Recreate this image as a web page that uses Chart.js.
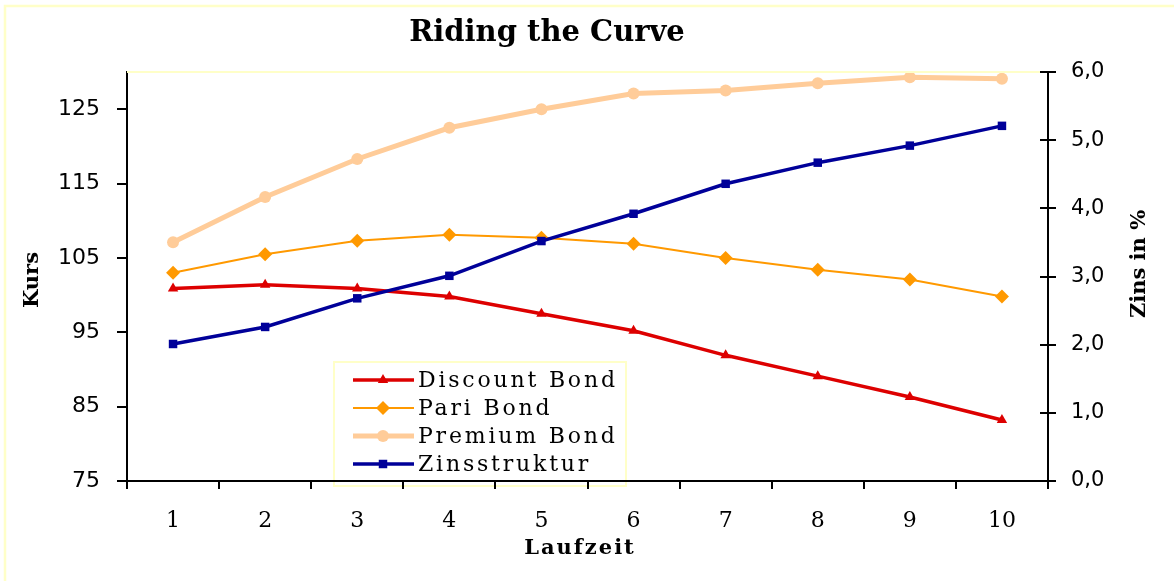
<!DOCTYPE html>
<html>
<head>
<meta charset="utf-8">
<script src="https://cdn.jsdelivr.net/npm/chart.js@4.4.1/dist/chart.umd.min.js"></script>
<style>
  html, body { margin: 0; padding: 0; background: #ffffff; }
  #wrap { position: relative; width: 1174px; height: 581px; }
  canvas { display: block; }
</style>
</head>
<body>
<div id="wrap"><canvas id="c" width="1174" height="581"></canvas></div>
<script>
// ---- data ----
const categories = ['1', '2', '3', '4', '5', '6', '7', '8', '9', '10'];
const discountBond = [100.9, 101.4, 100.9, 99.8, 97.5, 95.2, 91.9, 89.1, 86.3, 83.2];
const pariBond     = [103.0, 105.5, 107.3, 108.1, 107.7, 106.9, 105.0, 103.4, 102.1, 99.8];
const premiumBond  = [107.1, 113.2, 118.3, 122.5, 125.0, 127.1, 127.5, 128.5, 129.3, 129.1];
const zinsstruktur = [2.01, 2.26, 2.68, 3.01, 3.52, 3.92, 4.36, 4.67, 4.92, 5.21];
const kursTicks = [75, 85, 95, 105, 115, 125];
const zinsTicks = [0, 1, 2, 3, 4, 5, 6];

const chartTitle = 'Riding the Curve';
const xTitle = 'Laufzeit';
const yTitle = 'Kurs';
const y1Title = 'Zins in %';

const PALE = '#FFFFC8';

const decorPlugin = {
  id: 'decor',
  beforeDraw(chart) {
    // legend box (drawn before axes so the x axis passes over it)
    const ctx = chart.ctx;
    ctx.save();
    const lx = 334, ly = 362, lw = 292, lh = 124;
    ctx.fillStyle = '#fff';
    ctx.fillRect(lx, ly, lw, lh);
    ctx.strokeStyle = PALE;
    ctx.lineWidth = 2;
    ctx.strokeRect(lx, ly, lw, lh);

    const rows = [380, 408, 436, 464];
    chart.data.datasets.forEach((ds, i) => {
      const yy = rows[i];
      ctx.strokeStyle = ds.borderColor;
      ctx.lineWidth = ds.borderWidth;
      ctx.beginPath();
      ctx.moveTo(353, yy);
      ctx.lineTo(414, yy);
      ctx.stroke();
      ctx.fillStyle = ds.pointBackgroundColor;
      ctx.strokeStyle = ds.pointBackgroundColor;
      Chart.helpers.drawPoint(ctx, {
        pointStyle: ds.pointStyle,
        radius: ds.pointRadius,
        rotation: 0,
        borderWidth: 0
      }, 383, yy);
      ctx.fillStyle = '#000';
      ctx.textAlign = 'left';
      ctx.textBaseline = 'middle';
      ctx.font = '22px "DejaVu Serif"';
      ctx.letterSpacing = '2.8px';
      ctx.fillText(ds.label, 418, yy + 1);
      ctx.letterSpacing = '0px';
    });
    ctx.restore();
  },
  afterDraw(chart) {
    const ctx = chart.ctx;
    const a = chart.chartArea;
    ctx.save();
    // outer frame
    ctx.strokeStyle = PALE;
    ctx.lineWidth = 2.5;
    ctx.strokeRect(5, 6, 1200, 600);
    // plot-area top border
    ctx.beginPath();
    ctx.moveTo(a.left, a.top);
    ctx.lineTo(a.right, a.top);
    ctx.lineWidth = 2;
    ctx.stroke();

    // inner halves of right-axis ticks
    const y1 = chart.scales.y1;
    ctx.strokeStyle = '#000';
    ctx.lineWidth = 2;
    y1.ticks.forEach(t => {
      const py = Math.round(y1.getPixelForValue(t.value));
      ctx.beginPath();
      ctx.moveTo(a.right - 8, py);
      ctx.lineTo(a.right, py);
      ctx.stroke();
    });

    // titles
    ctx.fillStyle = '#000';
    ctx.textAlign = 'center';
    ctx.textBaseline = 'alphabetic';
    ctx.font = 'bold 29px "DejaVu Serif"';
    ctx.fillText(chartTitle, 547, 41);

    ctx.font = 'bold 21px "DejaVu Serif"';
    ctx.textBaseline = 'middle';
    ctx.letterSpacing = '2px';
    ctx.fillText(xTitle, 580, 549);
    ctx.letterSpacing = '0px';

    ctx.save();
    ctx.translate(33, 280);
    ctx.rotate(-Math.PI / 2);
    ctx.fillText(yTitle, 0, 0);
    ctx.restore();

    ctx.save();
    ctx.translate(1140, 264);
    ctx.rotate(-Math.PI / 2);
    ctx.fillText(y1Title, 0, 0);
    ctx.restore();
    ctx.restore();
  }
};

new Chart(document.getElementById('c'), {
  type: 'line',
  data: {
    labels: categories,
    datasets: [
      {
        label: 'Discount Bond', data: discountBond, yAxisID: 'y',
        borderColor: '#DD0000', backgroundColor: '#DD0000',
        pointBackgroundColor: '#DD0000', pointBorderColor: '#DD0000',
        borderWidth: 3.5, pointStyle: 'triangle', pointRadius: 6, pointBorderWidth: 0,
        order: 1, clip: false, tension: 0
      },
      {
        label: 'Pari Bond', data: pariBond, yAxisID: 'y',
        borderColor: '#FF9900', backgroundColor: '#FF9900',
        pointBackgroundColor: '#FF9900', pointBorderColor: '#FF9900',
        borderWidth: 2, pointStyle: 'rectRot', pointRadius: 7, pointBorderWidth: 0,
        order: 2, clip: false, tension: 0
      },
      {
        label: 'Premium Bond', data: premiumBond, yAxisID: 'y',
        borderColor: '#FFCC99', backgroundColor: '#FFCC99',
        pointBackgroundColor: '#FFCC99', pointBorderColor: '#FFCC99',
        borderWidth: 5, pointStyle: 'circle', pointRadius: 6, pointBorderWidth: 0,
        order: 3, clip: false, tension: 0
      },
      {
        label: 'Zinsstruktur', data: zinsstruktur, yAxisID: 'y1',
        borderColor: '#000099', backgroundColor: '#000099',
        pointBackgroundColor: '#000099', pointBorderColor: '#000099',
        borderWidth: 3.5, pointStyle: 'rect', pointRadius: 6, pointBorderWidth: 0,
        order: 0, clip: false, tension: 0
      }
    ]
  },
  options: {
    responsive: false,
    animation: false,
    events: [],
    layout: { padding: { top: 72, left: 0, right: 0, bottom: 0 } },
    plugins: {
      legend: { display: false },
      title: { display: false },
      tooltip: { enabled: false }
    },
    scales: {
      x: {
        type: 'category',
        offset: true,
        grid: { offset: true, drawOnChartArea: false, drawTicks: true, tickLength: 8, color: '#000', lineWidth: 2 },
        border: { display: true, color: '#000', width: 2 },
        ticks: { color: '#000', font: { family: 'DejaVu Serif', size: 22 }, padding: 19, maxRotation: 0, autoSkip: false },
        afterFit(s) { s.height = 100; }
      },
      y: {
        type: 'linear',
        position: 'left',
        min: 75, max: 130,
        afterBuildTicks(s) { s.ticks = kursTicks.map(v => ({ value: v })); },
        grid: { drawOnChartArea: false, drawTicks: true, tickLength: 10, color: '#000', lineWidth: 2 },
        border: { display: true, color: '#000', width: 2 },
        ticks: { color: '#000', font: { family: 'DejaVu Sans', size: 22 }, padding: 17 },
        afterFit(s) { s.width = 127; }
      },
      y1: {
        type: 'linear',
        position: 'right',
        min: 0, max: 6,
        afterBuildTicks(s) { s.ticks = zinsTicks.map(v => ({ value: v })); },
        grid: { drawOnChartArea: false, drawTicks: true, tickLength: 8, color: '#000', lineWidth: 2 },
        border: { display: true, color: '#000', width: 2 },
        ticks: {
          color: '#000', font: { family: 'DejaVu Sans', size: 21 }, padding: 15,
          callback: v => v.toFixed(1).replace('.', ',')
        },
        afterFit(s) { s.width = 126; }
      }
    }
  },
  plugins: [decorPlugin]
});
</script>
</body>
</html>
